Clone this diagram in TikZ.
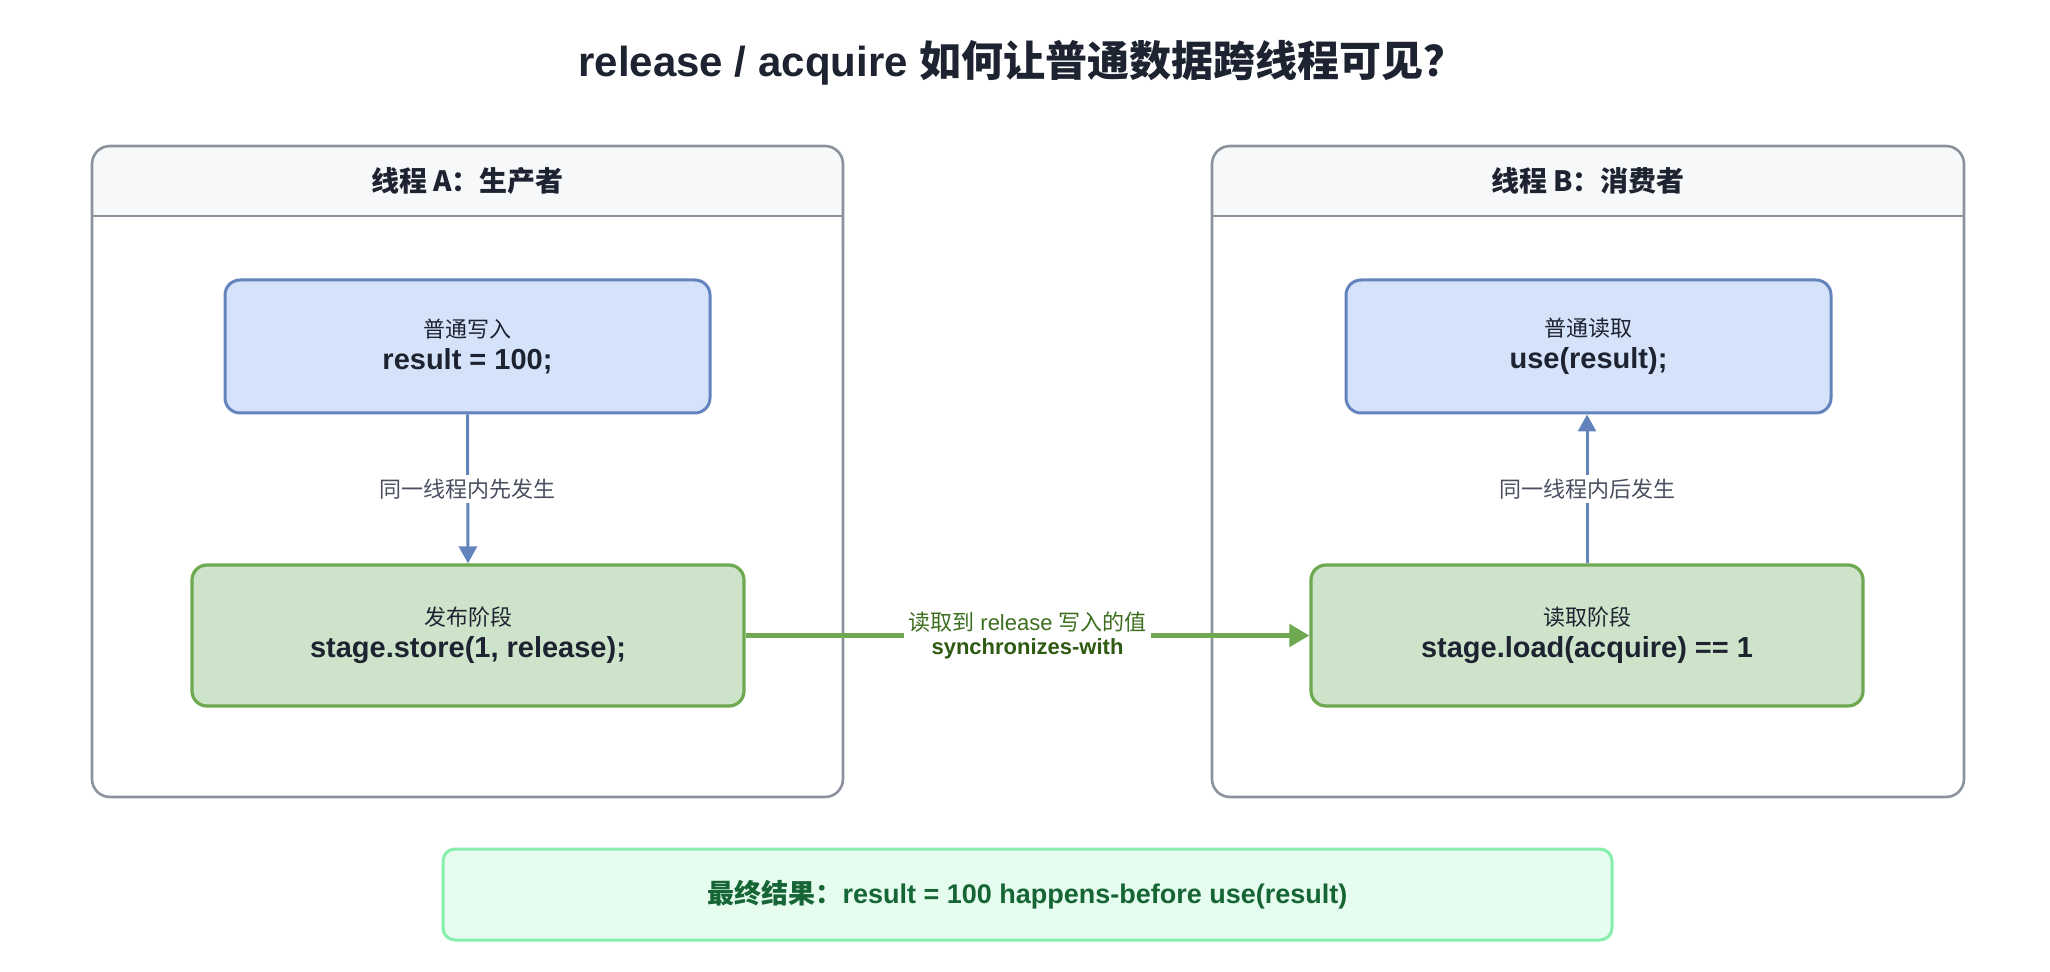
\documentclass[tikz,border=0pt]{standalone}
\usepackage{fontspec}
\setmainfont{Liberation Sans}
\newfontfamily\cjk{Noto Sans CJK SC}
\usetikzlibrary{arrows.meta}

\definecolor{ink}{HTML}{1D2330}
\definecolor{labgray}{HTML}{4A5060}
\definecolor{framegray}{HTML}{8B929E}
\definecolor{headbg}{HTML}{F7F8FA}
\definecolor{bluefill}{HTML}{D5E3FA}
\definecolor{blueline}{HTML}{6283BC}
\definecolor{greenfill}{HTML}{CEE4CA}
\definecolor{greenline}{HTML}{6EA850}
\definecolor{syncdark}{HTML}{2E5A12}
\definecolor{synclight}{HTML}{3D6E1F}
\definecolor{resfill}{HTML}{E6FCEF}
\definecolor{resline}{HTML}{86EFAC}
\definecolor{restext}{HTML}{166534}

\newcommand{\desc}{\cjk\fontsize{11}{13}\selectfont}
\newcommand{\code}{\bfseries\fontsize{14.5}{17}\selectfont}

\begin{document}
\begin{tikzpicture}[
        x=0.5pt, y=-0.5pt,
        frame/.style={draw=framegray, line width=1.3pt, rounded corners=9pt},
        bluebox/.style={draw=blueline, fill=bluefill, line width=1.5pt, rounded corners=7.5pt,
            minimum width=242.5pt, minimum height=66.5pt, align=center, text=ink},
        greenbox/.style={draw=greenline, fill=greenfill, line width=1.6pt, rounded corners=7.5pt,
            minimum width=276pt, minimum height=70.5pt, align=center, text=ink},
        flow/.style={draw=blueline, line width=1.5pt, -{Triangle[length=8.5pt, width=9pt]}},
        sync/.style={draw=greenline, line width=2.5pt, -{Triangle[length=10pt, width=11pt]}},
        lbl/.style={fill=white, text=labgray, inner sep=2pt, font=\desc}
    ]
        \useasboundingbox (0,0) rectangle (2050,972);

        % Title
        \node[text=ink, font=\bfseries\fontsize{21}{25}\selectfont] (title) at (1022,63)
            {release / acquire {\cjk 如何让普通数据跨线程可见？}};

        % Thread frames
        \foreach \xl/\xr/\n/\txt in {92/843/A/{线程 A：生产者}, 1212/1964/B/{线程 B：消费者}} {
            \fill[headbg, rounded corners=9pt] (\xl,146) rectangle (\xr,240);
            \fill[white] (\xl,216) rectangle (\xr,250);
            \draw[frame] (\xl,146) rectangle (\xr,797);
            \draw[framegray, line width=1.3pt] (\xl,216) -- (\xr,216);
            \node[text=ink, font=\cjk\bfseries\fontsize{14}{17}\selectfont] (hdr\n) at ({(\xl+\xr)/2},181) {\txt};
        }

        % Thread A
        \node[bluebox] (writeA) at (467.5,346.5) {{\desc 普通写入}\\[4pt]{\code result = 100;}};
        \node[greenbox] (pubA) at (468,635.5) {{\desc 发布阶段}\\[4pt]{\code stage.store(1, release);}};

        % Thread B
        \node[bluebox] (useB) at (1588.5,346.5) {{\desc 普通读取}\\[4pt]{\code use(result);}};
        \node[greenbox] (loadB) at (1587,635.5) {{\desc 读取阶段}\\[4pt]{\code stage.load(acquire) == 1}};

        % Arrows
        \draw[flow] (writeA.south) -- node[lbl] (hbA) {同一线程内先发生} (pubA.north);
        \draw[flow] (loadB.north) -- node[lbl] (hbB) {同一线程内后发生} (loadB.north |- useB.south);
        \draw[sync] (pubA.east) -- node[fill=white, inner sep=2pt, align=center] (sw)
            {{\color{synclight}\fontsize{11}{13}\selectfont{\cjk 读取到} release {\cjk 写入的值}}\\
             {\color{syncdark}\bfseries\fontsize{11}{13}\selectfont synchronizes-with}} (loadB.west);

        % Result
        \node[draw=resline, fill=resfill, line width=1.5pt, rounded corners=6pt,
            minimum width=584.5pt, minimum height=45.5pt, text=restext,
            font=\bfseries\fontsize{13.5}{16}\selectfont] (final) at (1027.5,894.5)
            {{\cjk 最终结果：}result = 100 happens-before use(result)};
    \end{tikzpicture}
\end{document}
